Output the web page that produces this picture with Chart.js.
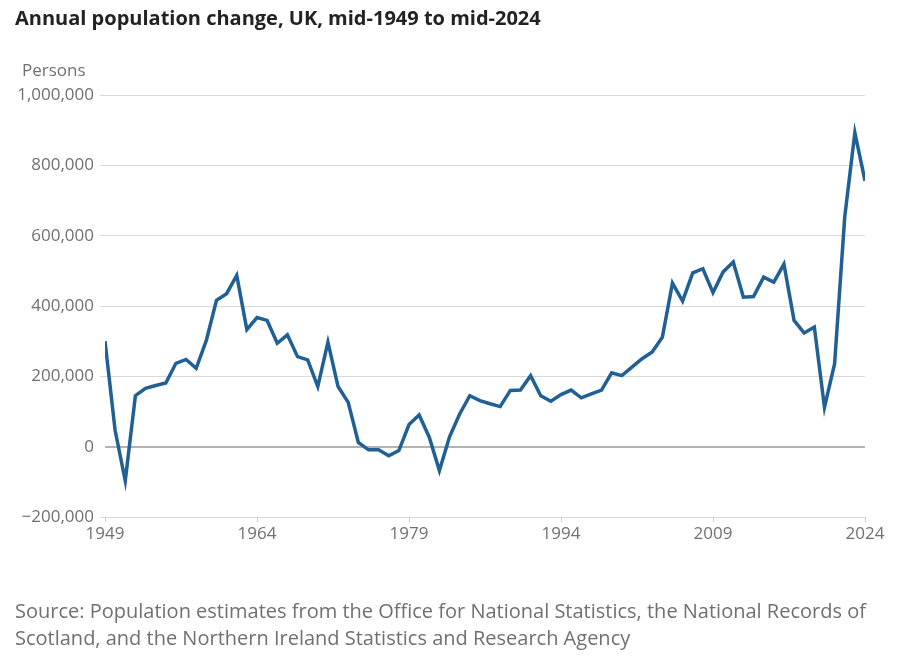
<!DOCTYPE html>
<html lang="en">
<head>
  <meta charset="UTF-8">
  <title>Annual population change, UK, mid-1949 to mid-2024</title>
  <script src="https://cdn.jsdelivr.net/npm/chart.js"></script>
  <style>
    body {
      margin: 0;
      padding: 0;
      background: #fff;
      font-family: "Open Sans", sans-serif;
    }
    .wrap {
      position: relative;
      width: 907px;
      height: 663px;
    }
    #chart {
      position: absolute;
      left: 0;
      top: 0;
    }
    h1 {
      position: absolute;
      left: 15px;
      top: 4px;
      margin: 0;
      font-size: 20px;
      font-weight: 700;
      color: #222;
    }
    .unit {
      position: absolute;
      left: 22px;
      top: 58px;
      font-size: 17px;
      color: #707070;
    }
    .source {
      position: absolute;
      left: 15px;
      top: 597px;
      width: 880px;
      font-size: 20px;
      line-height: 27px;
      color: #707070;
    }
  </style>
</head>
<body>
  <div class="wrap">
    <canvas id="chart" width="907" height="663"></canvas>
    <h1>Annual population change, UK, mid-1949 to mid-2024</h1>
    <div class="unit">Persons</div>
    <div class="source">Source: Population estimates from the Office for National Statistics, the National Records of Scotland, and the Northern Ireland Statistics and Research Agency</div>
  </div>

  <script>
    // mid-year to mid-year change
    const years = [];
    for (let y = 1949; y <= 2024; y++) years.push(y);

    const change = [
      300000, 46000, -97000, 145000, 166000, 174000, 181000, 237000, 248000, 223000,
      302000, 416000, 435000, 487000, 333000, 367000, 359000, 294000, 318000, 256000,
      247000, 171000, 297000, 171000, 126000, 12000, -9000, -9000, -26000, -11000,
      63000, 90000, 27000, -68000, 28000, 93000, 145000, 131000, 122000, 114000,
      160000, 161000, 202000, 145000, 129000, 148000, 161000, 139000, 150000, 161000,
      210000, 202000, 226000, 250000, 269000, 311000, 465000, 414000, 494000, 506000,
      438000, 497000, 525000, 425000, 427000, 482000, 468000, 519000, 359000, 323000,
      340000, 112000, 236000, 653000, 893000, 756000
    ];

    const xTicks = [1949, 1964, 1979, 1994, 2009, 2024];
    const yTicks = [-200000, 0, 200000, 400000, 600000, 800000, 1000000];

    const points = years.map((yr, i) => ({ x: yr, y: change[i] }));

    function fmt(v) {
      const s = Math.abs(v).toLocaleString('en-GB');
      return v < 0 ? '\u2212' + s : s;
    }

    new Chart(document.getElementById('chart'), {
      type: 'line',
      data: {
        datasets: [{
          data: points,
          borderColor: '#206095',
          borderWidth: 3.5,
          pointRadius: 0,
          tension: 0,
          fill: false
        }]
      },
      options: {
        responsive: false,
        animation: false,
        layout: { padding: { top: 95, right: 42, bottom: 0, left: 0 } },
        plugins: {
          legend: { display: false },
          tooltip: { enabled: false }
        },
        scales: {
          x: {
            type: 'linear',
            min: 1949,
            max: 2024,
            afterBuildTicks: s => { s.ticks = xTicks.map(v => ({ value: v })); },
            afterFit: s => { s.height = 146; },
            border: { display: false },
            grid: {
              drawOnChartArea: false,
              drawTicks: true,
              tickLength: 5,
              color: '#cccccc'
            },
            ticks: {
              callback: v => String(v),
              color: '#707070',
              font: { family: 'Open Sans', size: 17 },
              padding: 2,
              maxRotation: 0
            }
          },
          y: {
            min: -200000,
            max: 1000000,
            afterBuildTicks: s => { s.ticks = yTicks.map(v => ({ value: v })); },
            afterFit: s => { s.width = 105; },
            border: { display: false },
            grid: {
              color: c => c.tick && c.tick.value === 0 ? '#b3b3b3' : '#d9d9d9',
              lineWidth: c => c.tick && c.tick.value === 0 ? 2 : 1,
              tickColor: c => c.tick && c.tick.value === 0 ? 'rgba(0,0,0,0)' : '#d9d9d9',
              tickLength: 5
            },
            ticks: {
              callback: v => fmt(v),
              color: '#707070',
              font: { family: 'Open Sans', size: 17 },
              padding: 6
            }
          }
        }
      }
    });
  </script>
</body>
</html>
